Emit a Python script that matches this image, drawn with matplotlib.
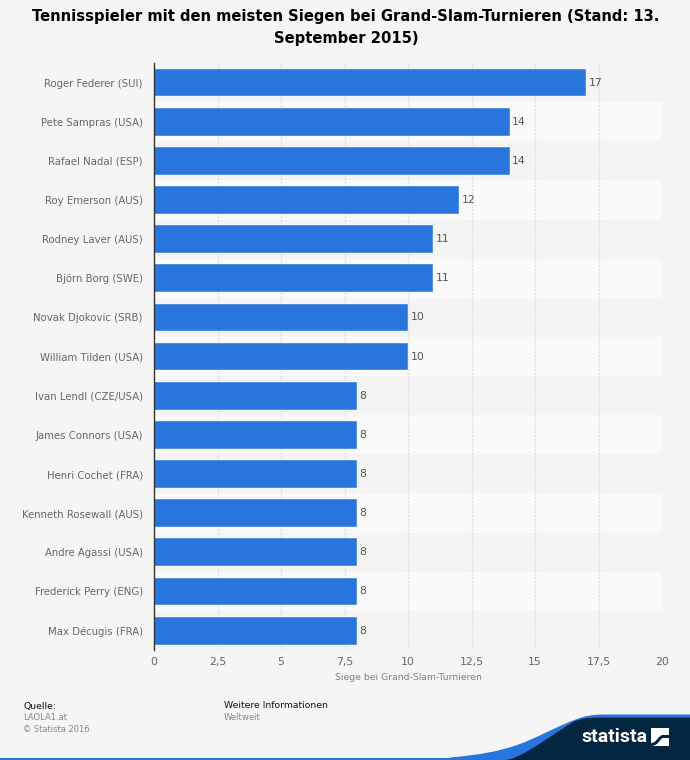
import matplotlib
matplotlib.use("Agg")
import matplotlib.pyplot as plt
from matplotlib.path import Path
from matplotlib.patches import PathPatch, Rectangle

players = ["Roger Federer (SUI)", "Pete Sampras (USA)", "Rafael Nadal (ESP)", "Roy Emerson (AUS)",
           "Rodney Laver (AUS)", "Björn Borg (SWE)", "Novak Djokovic (SRB)", "William Tilden (USA)",
           "Ivan Lendl (CZE/USA)", "James Connors (USA)", "Henri Cochet (FRA)", "Kenneth Rosewall (AUS)",
           "Andre Agassi (USA)", "Frederick Perry (ENG)", "Max Décugis (FRA)"]
wins = [17, 14, 14, 12, 11, 11, 10, 10, 8, 8, 8, 8, 8, 8, 8]
x_ticks = [0, 2.5, 5, 7.5, 10, 12.5, 15, 17.5, 20]
x_tick_labels = ["0", "2,5", "5", "7,5", "10", "12,5", "15", "17,5", "20"]

W, H = 690, 760
BG = "#f5f5f5"
BLUE = "#2875dd"
NAVY = "#02263f"

fig = plt.figure(figsize=(W / 100, H / 100), dpi=100, facecolor=BG)
ax = fig.add_axes([154 / W, 1 - 650.2 / H, 508 / W, 587.2 / H], facecolor=BG)

# alternating row bands
for i in range(len(players)):
    ax.axhspan(i - 0.5, i + 0.5, color="#fafafa" if i % 2 else "#f4f4f4", lw=0, zorder=0)

ax.vlines(x_ticks[1:], -0.5, len(players) - 0.5, color="#e0e0e0", lw=1, linestyles=(0, (1.5, 1)), zorder=1)
ax.barh(range(len(players)), wins, height=0.71, color=BLUE, edgecolor="#ffffff", linewidth=0.3, zorder=2)

for i, v in enumerate(wins):
    ax.text(v + 0.1, i, str(v), va="center", ha="left", fontsize=7.8, color="#555555", zorder=3)

ax.set_xlim(0, 20)
ax.set_ylim(len(players) - 0.5, -0.5)
ax.set_yticks(range(len(players)))
ax.set_yticklabels(players, fontsize=7.3, color="#666666")
ax.set_xticks(x_ticks)
ax.set_xticklabels(x_tick_labels, fontsize=7.8, color="#666666")
ax.tick_params(axis="both", length=0)
ax.tick_params(axis="y", pad=8)
ax.tick_params(axis="x", pad=5)
for s in ["top", "right", "bottom"]:
    ax.spines[s].set_visible(False)
ax.spines["left"].set_color("#333333")
ax.spines["left"].set_linewidth(1)
ax.spines["left"].set_zorder(5)
ax.set_xlabel("Siege bei Grand-Slam-Turnieren", fontsize=6.7, color="#808080", labelpad=4)


def px(x, y):
    return x / W, 1 - y / H


fig.text(*px(346, 17), "Tennisspieler mit den meisten Siegen bei Grand-Slam-Turnieren (Stand: 13.",
         fontsize=10.65, fontweight="bold", ha="center", va="center", color="#000000")
fig.text(*px(346, 39), "September 2015)", fontsize=10.65, fontweight="bold", ha="center", va="center", color="#000000")

fig.text(*px(23, 706), "Quelle:", fontsize=6.7, va="center", color="#111111")
fig.text(*px(23, 717), "LAOLA1.at", fontsize=6, va="center", color="#888888")
fig.text(*px(23, 729), "© Statista 2016", fontsize=6, va="center", color="#888888")
fig.text(*px(224, 706), "Weitere Informationen", fontsize=6.7, va="center", color="#111111")
fig.text(*px(224, 717), "Weltweit", fontsize=6.1, va="center", color="#888888")

# footer swoosh
deco = fig.add_axes([0, 0, 1, 1], facecolor="none")
deco.set_xlim(0, W)
deco.set_ylim(H, 0)
deco.axis("off")
C = Path.CURVE4
L = Path.LINETO
M = Path.MOVETO
deco.add_patch(Rectangle((0, 757.5), 460, 2.5, color=BLUE, lw=0))
deco.add_patch(PathPatch(Path(
    [(450, 757.5), (480, 755), (500, 751), (517, 745), (535, 739), (555, 727), (577, 719), (585, 716), (592, 714.5), (605, 714.5),
     (690, 714.5), (690, 760), (450, 760)],
    [M, C, C, C, C, C, C, C, C, C, L, L, L]), facecolor=BLUE, lw=0))
deco.add_patch(PathPatch(Path(
    [(505, 760), (514, 759), (518, 756), (522, 754), (535, 748), (555, 733), (573, 722), (582, 718), (590, 717.5), (605, 717.5),
     (690, 717.5), (690, 760), (505, 760)],
    [M, C, C, C, C, C, C, C, C, C, L, L, L]), facecolor=NAVY, lw=0))
deco.text(614.5, 737, "statista", fontsize=14, fontweight="bold", color="white", ha="center", va="center",
          family="Roboto")
deco.add_patch(Rectangle((651, 728), 18, 18, facecolor="white", lw=0))
deco.add_patch(PathPatch(Path(
    [(651, 743), (657, 743), (658, 735), (663, 735), (669, 735), (669, 738), (663, 738), (660, 738), (659, 746), (651, 746)],
    [M, C, C, C, L, L, L, C, C, C]), facecolor=NAVY, lw=0))

fig.savefig("out.png", dpi=100, facecolor=BG)
